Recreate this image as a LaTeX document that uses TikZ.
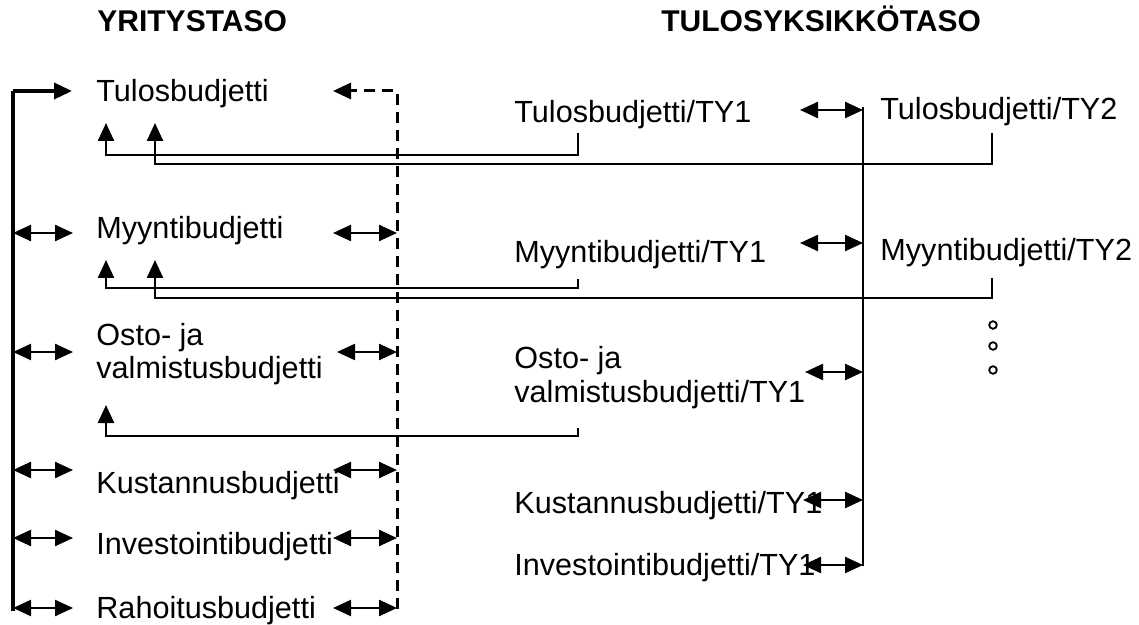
\documentclass[tikz,border=0pt]{standalone}
\usepackage{fontspec}
\setmainfont{Liberation Sans}
\usetikzlibrary{arrows.meta}

\begin{document}
\begin{tikzpicture}[x=0.5pt, y=-0.5pt,
	txt/.style={anchor=base west, inner sep=0pt, align=left,
		font=\fontsize{15.3}{17}\selectfont},
	hdr/.style={txt, font=\bfseries\fontsize{15}{17}\selectfont},
	lnk/.style={line width=1.2pt},
	bus/.style={line width=1.8pt},
	dsh/.style={line width=1.5pt, dash pattern=on 5.5pt off 3.5pt},
	tip/.style={-{Triangle[length=9pt,width=8pt]}},
	dbl/.style={lnk, {Triangle[length=9pt,width=8pt]}-{Triangle[length=9pt,width=8pt]}}]
\useasboundingbox (0,0) rectangle (1139,625);
% headings
\node[hdr] (hy) at (97,32) {YRITYSTASO};
\node[hdr] (ht) at (661,32) {TULOSYKSIKKÖTASO};
% company level
\node[txt] (tb) at (96,102) {Tulosbudjetti};
\node[txt] (mb) at (96,239) {Myyntibudjetti};
\node[txt] (ob) at (96,379) {Osto- ja\\valmistusbudjetti};
\node[txt] (kb) at (96,493) {Kustannusbudjetti};
\node[txt] (ib) at (96,554) {Investointibudjetti};
\node[txt] (rb) at (96,618) {Rahoitusbudjetti};
% unit level
\node[txt] (tb1) at (514,123) {Tulosbudjetti/TY1};
\node[txt] (tb2) at (880,120) {Tulosbudjetti/TY2};
\node[txt] (mb1) at (514,263) {Myyntibudjetti/TY1};
\node[txt] (mb2) at (880,261) {Myyntibudjetti/TY2};
\node[txt] (ob1) at (514,402) {Osto- ja\\valmistusbudjetti/TY1};
\node[txt] (kb1) at (514,513) {Kustannusbudjetti/TY1};
\node[txt] (ib1) at (514,575) {Investointibudjetti/TY1};
% lines
\coordinate (busT) at (13,91);
\coordinate (busB) at (13,611);
\coordinate (dshT) at (397,91);
\coordinate (dshB) at (397,609);
\coordinate (tyT) at (863,107);
\coordinate (tyB) at (863,566);
\coordinate (tbL) at (72,91);
\coordinate (tbR) at (333,91);
\draw[bus] (busB) -- (busT);
\draw[bus, tip] (busT) -- (tbL);
\draw[dsh, tip] (dshB) -- (dshT) -- (tbR);
\draw[lnk] (tyT) -- (tyB);
% left arrows
\coordinate (l1) at (73,233);
\coordinate (l2) at (73,352);
\coordinate (l3) at (73,470);
\coordinate (l4) at (73,538);
\coordinate (l5) at (73,608);
\draw[dbl] (busT |- l1) -- (l1);
\draw[dbl] (busT |- l2) -- (l2);
\draw[dbl] (busT |- l3) -- (l3);
\draw[dbl] (busT |- l4) -- (l4);
\draw[dbl] (busT |- l5) -- (l5);
% arrows to dashed line
\coordinate (r1) at (333,233);
\coordinate (r2) at (337,352);
\coordinate (r3) at (333,470);
\coordinate (r4) at (333,538);
\coordinate (r5) at (333,608);
\draw[dbl] (r1) -- (dshT |- r1);
\draw[dbl] (r2) -- (dshT |- r2);
\draw[dbl] (r3) -- (dshT |- r3);
\draw[dbl] (r4) -- (dshT |- r4);
\draw[dbl] (r5) -- (dshT |- r5);
% arrows to unit line
\coordinate (u1) at (800,110);
\coordinate (u2) at (800,243);
\coordinate (u3) at (805,372);
\coordinate (u4) at (803,500);
\coordinate (u5) at (803,565);
\draw[dbl] (u1) -- (tyT |- u1);
\draw[dbl] (u2) -- (tyT |- u2);
\draw[dbl] (u3) -- (tyT |- u3);
\draw[dbl] (u4) -- (tyT |- u4);
\draw[dbl] (u5) -- (tyT |- u5);
% feedback
\draw[lnk, tip] (578,133) -- (578,155) -- (106,155) -- (106,123);
\draw[lnk, tip] (992,133) -- (992,164) -- (155,164) -- (155,123);
\draw[lnk, tip] (578,279) -- (578,288) -- (106,288) -- (106,260);
\draw[lnk, tip] (992,278) -- (992,298) -- (155,298) -- (155,260);
\draw[lnk, tip] (578,428) -- (578,436) -- (106,436) -- (106,405);
% more units
\draw[line width=0.9pt] (993,325) circle (3.8);
\draw[line width=0.9pt] (993,346) circle (3.8);
\draw[line width=0.9pt] (993,370) circle (3.8);
\end{tikzpicture}
\end{document}
